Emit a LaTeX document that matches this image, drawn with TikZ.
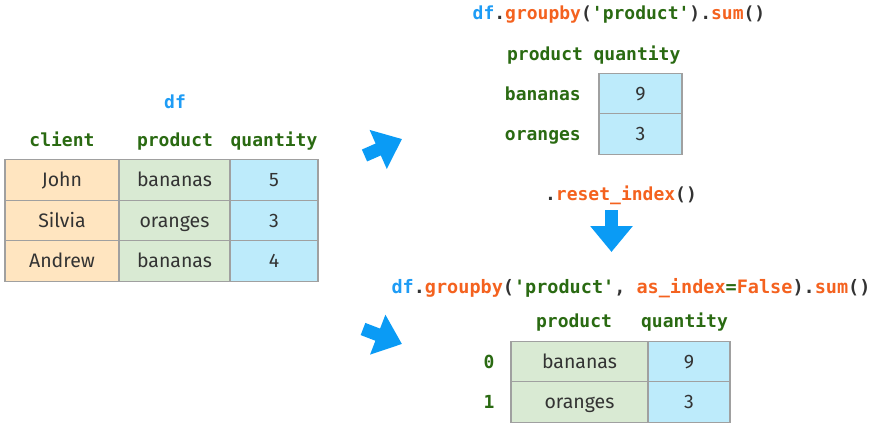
\documentclass[tikz,border=0pt]{standalone}
\usepackage{fontspec}
\setmainfont{Fira Sans}
\setmonofont{DejaVu Sans Mono}
\usetikzlibrary{arrows.meta}
\definecolor{codeblue}{HTML}{1E9CF5}
\definecolor{codeorange}{HTML}{F4621F}
\definecolor{codegreen}{HTML}{2A6A12}
\definecolor{codegray}{HTML}{333333}
\definecolor{cellpeach}{HTML}{FFE5C0}
\definecolor{cellgreen}{HTML}{D9EAD3}
\definecolor{cellblue}{HTML}{BDEBFB}
\definecolor{cellline}{HTML}{A0A0A0}
\definecolor{arrowblue}{HTML}{0A9BF5}
\newcommand{\dfname}{\textcolor{codeblue}{df}}
\newcommand{\fnname}[1]{\textcolor{codeorange}{#1}}
\newcommand{\strname}[1]{\textcolor{codegreen}{#1}}
\tikzset{
  code/.style={font=\ttfamily\bfseries\fontsize{18pt}{20pt}\selectfont, text=codegray, inner sep=0pt, anchor=base},
  colhead/.style={code, text=codegreen},
  cell/.style={draw=cellline, line width=1.3pt, inner sep=0pt, outer sep=0pt, minimum height=40.5pt,
    text height=13.8pt, text depth=0pt, font=\fontsize{19.5pt}{22pt}\selectfont, text=codegray},
  bigarrow/.style={draw=arrowblue, line width=13pt, -{Triangle[length=26pt, width=41pt]}}
}
\begin{document}
\begin{tikzpicture}[x=1pt,y=-1pt]
\useasboundingbox (0,0) rectangle (875,428);
% input frame
\node[code] (dflabel) at (175,108) {\dfname};
\node[colhead] (hclient) at (62,146.5) {client};
\node[colhead] (hproduct) at (175,146.5) {product};
\node[colhead] (hquantity) at (274,146.5) {quantity};
\node[cell,fill=cellpeach,minimum width=114pt] (c11) at (62,180) {John};
\node[cell,fill=cellpeach,minimum width=114pt] (c21) at (62,220.5) {Silvia};
\node[cell,fill=cellpeach,minimum width=114pt] (c31) at (62,261) {Andrew};
\node[cell,fill=cellgreen,minimum width=111pt] (c12) at (174.5,180) {bananas};
\node[cell,fill=cellgreen,minimum width=111pt] (c22) at (174.5,220.5) {oranges};
\node[cell,fill=cellgreen,minimum width=111pt] (c32) at (174.5,261) {bananas};
\node[cell,fill=cellblue,minimum width=88pt] (c13) at (274,180) {5};
\node[cell,fill=cellblue,minimum width=88pt] (c23) at (274,220.5) {3};
\node[cell,fill=cellblue,minimum width=88pt] (c33) at (274,261) {4};
% arrows
\coordinate (uptail) at (364.5,155.5);
\coordinate (uptip) at (402,139);
\coordinate (downtail) at (363,329);
\coordinate (downtip) at (402,344);
\draw[bigarrow] (uptail) -- (uptip);
\draw[bigarrow] (downtail) -- (downtip);
% groupby with index
\node[code] (topcode) at (619,20) {\dfname.\fnname{groupby}(\strname{'product'}).\fnname{sum}()};
\node[colhead] (tproduct) at (545,61) {product};
\node[colhead] (tquantity) at (637,61) {quantity};
\node[colhead,anchor=base east] (tbananas) at (581,100) {bananas};
\node[colhead,anchor=base east] (toranges) at (581,140.5) {oranges};
\node[cell,fill=cellblue,minimum width=83pt] (t1) at (640.5,93.5) {9};
\node[cell,fill=cellblue,minimum width=83pt] (t2) at (640.5,134) {3};
% reset_index
\node[code] (resetcode) at (621,200) {.\fnname{reset\_index}()};
\coordinate (resettail) at (611.5,210);
\coordinate (resettip) at (611.5,252);
\draw[bigarrow] (resettail) -- (resettip);
% groupby without index
\node[code,font=\ttfamily\bfseries\fontsize{18.5pt}{20pt}\selectfont] (botcode) at (631,293) {\dfname.\fnname{groupby}(\strname{'product'}, \fnname{as\_index}\strname{=}\fnname{False}).\fnname{sum}()};
\node[colhead] (bproduct) at (574,327) {product};
\node[colhead] (bquantity) at (684.5,327) {quantity};
\node[colhead] (bidx0) at (489,368) {0};
\node[colhead] (bidx1) at (489,408) {1};
\node[cell,fill=cellgreen,minimum width=137pt] (b11) at (579.5,361.5) {bananas};
\node[cell,fill=cellgreen,minimum width=137pt] (b21) at (579.5,402) {oranges};
\node[cell,fill=cellblue,minimum width=82pt] (b12) at (689,361.5) {9};
\node[cell,fill=cellblue,minimum width=82pt] (b22) at (689,402) {3};
\end{tikzpicture}
\end{document}
